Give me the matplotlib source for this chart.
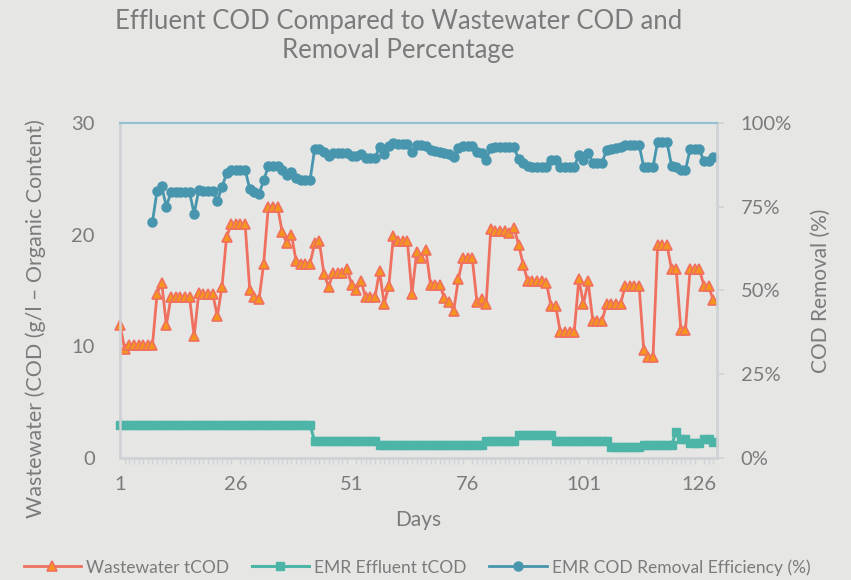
import numpy as np
import matplotlib.pyplot as plt
from matplotlib.ticker import FuncFormatter, FixedLocator, MultipleLocator

plt.rcParams['font.family'] = ['Lato', 'DejaVu Sans']

# ---- data ----
days = np.arange(1, 130)

wastewater = [11.9, 9.8, 10.1, 10.1, 10.1, 10.1, 10.1, 10.1, 14.7, 15.7,
              11.9, 14.4, 14.4, 14.4, 14.4, 14.4, 10.9, 14.8, 14.7, 14.7,
              14.7, 12.7, 15.3, 19.8, 20.9, 20.9, 20.9, 20.9, 15.0, 14.4,
              14.2, 17.4, 22.5, 22.5, 22.5, 20.2, 19.2, 20.0, 17.6, 17.4,
              17.4, 17.4, 19.2, 19.4, 16.5, 15.3, 16.6, 16.6, 16.6, 16.9,
              15.5, 15.0, 15.8, 14.4, 14.4, 14.4, 16.7, 13.8, 15.4, 19.9,
              19.4, 19.4, 19.4, 14.7, 18.4, 17.9, 18.6, 15.5, 15.5, 15.5,
              14.3, 14.0, 13.2, 16.0, 17.9, 17.9, 17.9, 14.0, 14.2, 13.8,
              20.5, 20.3, 20.3, 20.3, 20.1, 20.6, 19.1, 17.3, 15.8, 15.8,
              15.8, 15.8, 15.7, 13.6, 13.6, 11.3, 11.3, 11.3, 11.3, 16.0,
              13.8, 15.8, 12.3, 12.3, 12.3, 13.8, 13.8, 13.8, 13.8, 15.4,
              15.4, 15.4, 15.4, 9.7, 9.0, 9.0, 19.1, 19.1, 19.1, 16.9,
              16.9, 11.5, 11.5, 16.9, 16.9, 16.9, 15.4, 15.4, 14.1]

effluent = ([3.0] * 42 + [1.5] * 14 + [1.2] * 23 + [1.5] * 7 + [2.1] * 8 +
            [1.5] * 12 + [1.0] * 7 + [1.2] * 7 + [2.3] + [1.7] * 2 +
            [1.3] * 3 + [1.7] * 2 + [1.45])

removal = [np.nan] * 7 + [70.4, 79.7, 81.0,
           75.0, 79.3, 79.3, 79.3, 79.3, 79.3, 72.8, 80.0, 79.8, 79.8,
           79.8, 76.8, 80.7, 85.0, 86.0, 86.0, 86.0, 86.0, 80.2, 79.3,
           78.8, 82.8, 87.0, 87.0, 87.0, 85.8, 84.5, 85.3, 83.5, 82.8,
           82.8, 82.8, 92.2, 92.2, 91.4, 90.2, 90.9, 91.1, 91.1, 91.1,
           90.2, 90.1, 90.6, 89.5, 89.5, 89.5, 92.7, 90.7, 93.1, 93.9,
           93.6, 93.6, 93.6, 91.4, 93.4, 93.5, 93.1, 91.9, 91.7, 91.4,
           91.1, 90.7, 89.9, 92.4, 93.1, 93.1, 93.1, 91.4, 90.9, 89.0,
           92.4, 92.7, 92.7, 92.7, 92.7, 92.7, 89.2, 88.0, 87.0, 86.8,
           86.8, 86.8, 86.8, 89.0, 89.0, 86.8, 86.8, 86.8, 86.8, 90.4,
           88.8, 91.0, 88.1, 88.1, 88.1, 91.9, 92.1, 92.4, 92.7, 93.4,
           93.4, 93.4, 93.4, 86.8, 86.8, 86.8, 94.4, 94.4, 94.4, 87.2,
           86.8, 86.0, 85.8, 92.1, 92.1, 92.1, 88.5, 88.5, 89.9]

xticks = [1, 26, 51, 76, 101, 126]

bg = '#e6e6e5'
tc = '#7b7b7b'
axc = '#cfd3d5'

fig = plt.figure(figsize=(8.51, 5.80), dpi=100, facecolor=bg)
ax = fig.add_axes([0.141, 0.2103, 0.7015, 0.578], facecolor=bg)
ax2 = ax.twinx()

l1, = ax.plot(days, wastewater, color='#f0705f', lw=2.0, marker='^',
              markersize=6.5, markerfacecolor='#f5961c', markeredgecolor='#f0705f',
              markeredgewidth=1.2, label='Wastewater tCOD', clip_on=False, zorder=3)
l2, = ax.plot(days, effluent, color='#4db5a8', lw=2.2, marker='s',
              markersize=6, markerfacecolor='#4db5a8', markeredgecolor='#4db5a8',
              label='EMR Effluent tCOD', clip_on=False, zorder=3)
l3, = ax2.plot(days, removal, color='#4796ae', lw=2.0, marker='o',
               markersize=6.5, markerfacecolor='#4796ae', markeredgecolor='#4796ae',
               label='EMR COD Removal Efficiency (%)', clip_on=False)

ax.set_xlim(1, 129.8)
ax.set_ylim(0, 30)
ax2.set_ylim(0, 100)

ax.set_yticks([0, 10, 20, 30])
ax2.set_yticks([0, 25, 50, 75, 100])
ax2.yaxis.set_major_formatter(FuncFormatter(lambda v, p: f'{v:.0f}%'))
ax.xaxis.set_major_locator(FixedLocator(xticks))
ax.xaxis.set_minor_locator(MultipleLocator(1))

for a in (ax, ax2):
    a.spines['top'].set_color('#93c0d3')
    a.spines['top'].set_linewidth(1.5)
    a.spines['left'].set_color(axc)
    a.spines['left'].set_linewidth(1.8)
    a.spines['right'].set_color(axc)
    a.spines['right'].set_linewidth(1.8)
    a.spines['bottom'].set_color(axc)
    a.spines['bottom'].set_linewidth(2.0)

ax.tick_params(axis='y', length=0, labelsize=14.5, labelcolor=tc, pad=18)
ax.tick_params(axis='x', which='major', length=0, labelsize=14.5, labelcolor=tc, pad=13)
ax.tick_params(axis='x', which='minor', length=4, width=1, color=axc, direction='out')
ax2.tick_params(axis='y', length=5, width=1.2, color=axc, direction='out',
                labelsize=14.5, labelcolor=tc, pad=12)

ax.set_ylabel('Wastewater (COD (g/l \u2013 Organic Content)', fontsize=15.5, color=tc)
ax.yaxis.set_label_coords(-0.124, 0.415)
ax2.set_ylabel('COD Removal (%)', fontsize=15, color=tc, labelpad=14)
ax.set_xlabel('Days', fontsize=15, color=tc, labelpad=12)

fig.text(0.468, 0.985, 'Effluent COD Compared to Wastewater COD and\nRemoval Percentage',
         ha='center', va='top', fontsize=18.5, color=tc, linespacing=1.2)

fig.legend(handles=[l1, l2, l3], loc='center', bbox_to_anchor=(0.49, 0.022), ncol=3,
           frameon=False, fontsize=12.5, handlelength=3.3, columnspacing=1.3,
           handletextpad=0.3, labelcolor=tc)

fig.savefig('out.png', dpi=100, facecolor=bg)
